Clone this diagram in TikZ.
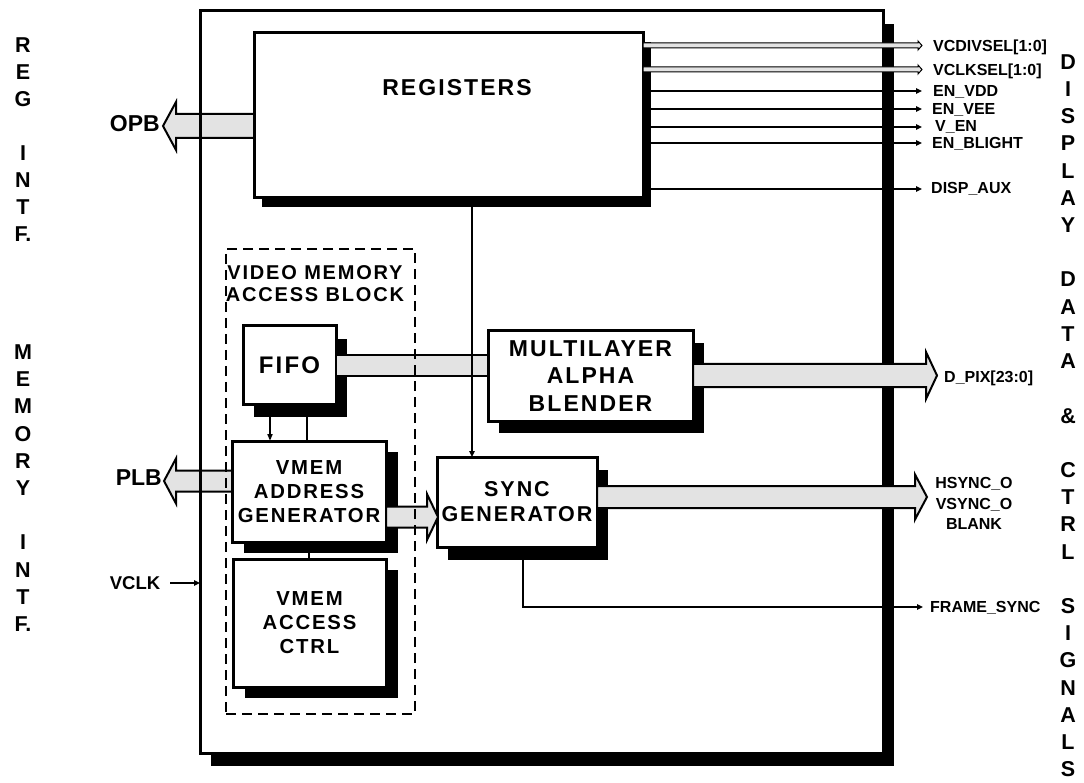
\documentclass[tikz,border=0pt]{standalone}
\usepackage{fontspec}
\setmainfont{Liberation Sans}
\newfontfamily\spc[LetterSpace=9]{Liberation Sans}
\usetikzlibrary{calc,shadows,arrows.meta}
\pgfdeclarelayer{bg}
\pgfdeclarelayer{fg}
\pgfsetlayers{bg,main,fg}
% #1 style, #2 start (x taken), #3 tip, #4 shaft half width, #5 head half width, #6 head length (signed)
\newcommand\fatarr[6][fat]{%
  \draw[#1] ($(#2 |- #3)+(0,#4)$) -- ($(#3)+({-(#6)},#4)$) -- ($(#3)+({-(#6)},#5)$) -- (#3)
    -- ($(#3)+({-(#6)},{-(#5)})$) -- ($(#3)+({-(#6)},{-(#4)})$) -- ($(#2 |- #3)+(0,{-(#4)})$) -- cycle;}
\begin{document}
\begin{tikzpicture}[x=1pt,y=-1pt,
  blk/.style={draw, line width=3pt, fill=white, inner sep=0pt, outer sep=0pt, align=center,
    font=\spc\bfseries\fontsize{20.3}{24}\selectfont},
  shd/.style args={#1/#2}{drop shadow={shadow xshift=#1pt, shadow yshift=-#2pt, fill=black, opacity=1}},
  fat/.style={draw, line width=2pt, fill=black!11, line join=miter},
  bus/.style={draw, line width=1pt, fill=black!11},
  sig/.style={line width=1.7pt, -{Triangle[length=6pt,width=5.5pt]}},
  wire/.style={line width=1.7pt},
  lbl/.style={font=\bfseries\fontsize{16}{19}\selectfont, inner sep=0pt, text height=11pt, text depth=0pt, anchor=west},
  vlet/.style={font=\bfseries\fontsize{21.5}{24}\selectfont, inner sep=0pt, text height=14.8pt, text depth=0pt},
  biglbl/.style={font=\bfseries\fontsize{23}{26}\selectfont, inner sep=0pt, text height=15.8pt, text depth=0pt, anchor=east}]
\useasboundingbox (0,0) rectangle (1084,783);

% outer block
\begin{pgfonlayer}{bg}
\node[draw, line width=3pt, fill=white, inner sep=0pt, outer sep=0pt, shd=10.5/13,
  minimum width=683pt, minimum height=742pt] (main) at (541.5,382) {};
\end{pgfonlayer}

% inner blocks
\node[blk, shd=8/9, minimum width=389pt, minimum height=165pt] (reg) at (448.5,115.5) {};
\node[font=\spc\bfseries\fontsize{23}{26}\selectfont, inner sep=0pt] (regt) at (457,88) {REGISTERS};
\node[blk, shd=11/13, minimum width=93pt, minimum height=78pt,
  font=\spc\bfseries\fontsize{24}{27}\selectfont] (fifo) at (289.5,365) {FIFO};
\node[blk, shd=11/12, minimum width=205pt, minimum height=90pt,
  font=\spc\bfseries\fontsize{23}{27.5}\selectfont] (mla) at (590.5,376) {MULTILAYER\\ALPHA\\BLENDER};
\node[blk, shd=12/11, minimum width=154pt, minimum height=101pt] (vaddr) at (309,491.5) {VMEM\\ADDRESS\\GENERATOR};
\node[blk, shd=12/11, minimum width=153pt, minimum height=128pt] (vacc) at (309.5,623) {VMEM\\ACCESS\\CTRL};
\node[blk, shd=11/13, minimum width=160pt, minimum height=90pt,
  font=\spc\bfseries\fontsize{21.5}{25}\selectfont] (sync) at (517,502) {SYNC\\GENERATOR};

% labels
\node[biglbl] (opb) at (160,124) {OPB};
\node[biglbl] (plb) at (162,478) {PLB};
\node[font=\bfseries\fontsize{18.5}{21}\selectfont, inner sep=0pt, text height=12.7pt, text depth=0pt] (vclk) at (135,583) {VCLK};
\node[font=\spc\bfseries\fontsize{20}{22}\selectfont, align=center, inner sep=0pt] (vmabt) at (315,284) {VIDEO MEMORY\\ACCESS BLOCK};

\node[lbl] (lvcd) at (933,46.5) {VCDIVSEL[1:0]};
\node[lbl] (lvck) at (933,70) {VCLKSEL[1:0]};
\node[lbl] (lvdd) at (933,91.5) {EN\_VDD};
\node[lbl] (lvee) at (932,109) {EN\_VEE};
\node[lbl] (lven) at (935,126.5) {V\_EN};
\node[lbl] (lbl) at (932,143) {EN\_BLIGHT};
\node[lbl] (laux) at (931,188.5) {DISP\_AUX};
\node[lbl] (ldpix) at (944,377) {D\_PIX[23:0]};
\node[font=\bfseries\fontsize{16}{20.5}\selectfont, align=center, inner sep=0pt] (lhs) at (974,503.5) {HSYNC\_O\\VSYNC\_O\\BLANK};
\node[lbl] (lfs) at (930,607) {FRAME\_SYNC};

% vertical side titles
\foreach \k/\c in {0/R,1/E,2/G,4/I,5/N,6/T,7/F.}
  \node[vlet] (rl\k) at (23,{45+27*\k}) {\c};
\foreach \k/\c in {0/M,1/E,2/M,3/O,4/R,5/Y,7/I,8/N,9/T,10/F.}
  \node[vlet] (ml\k) at (23,{352+27.2*\k}) {\c};
\foreach \k/\c in {0/D,1/I,2/S,3/P,4/L,5/A,6/Y,8/D,9/A,10/T,11/A,13/\&,15/C,16/T,17/R,18/L,20/S,21/I,22/G,23/N,24/A,25/L,26/S}
  \node[vlet] (rc\k) at (1068,{62+27.2*\k}) {\c};

% connector end points
\coordinate (vcdT) at (922,45.5);
\coordinate (vckT) at (922,69.5);
\coordinate (vddT) at (922,91);
\coordinate (veeT) at (922,109);
\coordinate (venT) at (922,127);
\coordinate (blT) at (922,143);
\coordinate (auxT) at (922,189);
\coordinate (opbT) at (163,126);
\coordinate (plbT) at (164,481);
\coordinate (dpixT) at (937,375.5);
\coordinate (syncT) at (927,497);
\coordinate (vsT) at (438,517);
\coordinate (fsT) at (923,607);
\coordinate (barC) at (400,366);
\coordinate (rsC) at ($(sync.north west)+(35,0)$);
\coordinate (faC) at ($(vaddr.north west)+(38,0)$);
\coordinate (fbC) at ($(vaddr.north west)+(75,0)$);

\begin{pgfonlayer}{fg}
% wide buses
\draw[fat] ($(fifo.east |- barC)+(0,-10.5)$) rectangle ($(mla.west |- barC)+(0,10.5)$);
\fatarr{reg.west}{opbT}{12}{24}{-13}
\fatarr{vaddr.west}{plbT}{10.5}{22.5}{-12}
\fatarr{mla.east}{dpixT}{11.5}{23.5}{11}
\fatarr{sync.east}{syncT}{11}{22.5}{12}
\fatarr{vaddr.east}{vsT}{10.5}{23}{11}
\fatarr[bus]{reg.east}{vcdT}{2.5}{4.5}{4}
\fatarr[bus]{reg.east}{vckT}{2.5}{4.5}{4}
% single signals
\draw[sig] (reg.east |- vddT) -- (vddT);
\draw[sig] (reg.east |- veeT) -- (veeT);
\draw[sig] (reg.east |- venT) -- (venT);
\draw[sig] (reg.east |- blT) -- (blT);
\draw[sig] (reg.east |- auxT) -- (auxT);
\draw[sig] (reg.south -| rsC) -- (rsC);
\draw[sig] ($(sync.south west)+(86,0)$) |- (fsT);
\draw[line width=1.7pt, -{Triangle[length=7pt,width=5pt]}] (fifo.south -| faC) -- (faC);
\draw[wire] (fifo.south -| fbC) -- (fbC);
\draw[wire] (vaddr.south) -- (vacc.north -| vaddr.south);
\draw[sig] ($(vclk.east)+(10,0)$) -- (vclk.east -| main.west);
% dashed group and left edge of the outer frame over the buses
\node[draw, line width=2pt, dash pattern=on 10pt off 6pt, inner sep=0pt, outer sep=0pt,
  minimum width=189pt, minimum height=465pt] (vmab) at (320.5,481.5) {};
\draw[line width=3pt] (main.north west) -- (main.south west);
\end{pgfonlayer}
\end{tikzpicture}
\end{document}
